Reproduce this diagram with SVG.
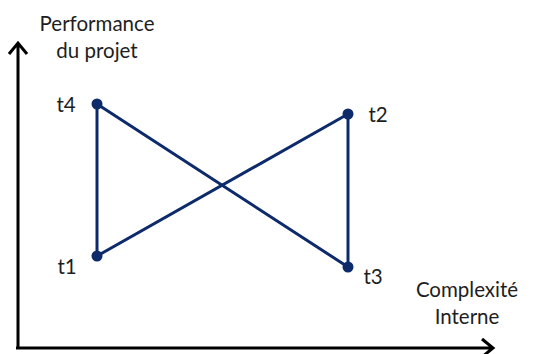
<svg xmlns="http://www.w3.org/2000/svg" width="534" height="354" viewBox="0 0 534 354">
<style>
text{font-family:Lato,"Liberation Sans",sans-serif;font-size:20.5px;fill:#1e1e1e}
.axis{stroke:#000;stroke-width:3;fill:none}
.edge{stroke:#0d2a6b;stroke-width:3;fill:none}
.dot{fill:#0d2a6b}
</style>
<rect width="534" height="354" fill="#fff"/>
<g id="axes">
<path class="axis" d="M18,348 V44 M9,54 L18,43 L27,54"/>
<path class="axis" d="M16,348 H492 M482,339 L493,348 L482,357"/>
<text x="97" y="31" text-anchor="middle">Performance</text>
<text x="97" y="58" text-anchor="middle">du projet</text>
<text x="467" y="297" text-anchor="middle">Complexité</text>
<text x="467" y="324" text-anchor="middle">Interne</text>
</g>
<g id="connectors">
<line class="edge" x1="97" y1="104" x2="97" y2="256"/>
<line class="edge" x1="97" y1="256" x2="348" y2="114"/>
<line class="edge" x1="348" y1="114" x2="348" y2="267"/>
<line class="edge" x1="348" y1="267" x2="97" y2="104"/>
</g>
<g id="t4"><circle class="dot" cx="97" cy="104" r="5.5"/><text x="66" y="112" text-anchor="middle">t4</text></g>
<g id="t1"><circle class="dot" cx="97" cy="256" r="5.5"/><text x="67" y="274" text-anchor="middle">t1</text></g>
<g id="t2"><circle class="dot" cx="348" cy="114" r="5.5"/><text x="378" y="122" text-anchor="middle">t2</text></g>
<g id="t3"><circle class="dot" cx="348" cy="267" r="5.5"/><text x="373" y="284" text-anchor="middle">t3</text></g>
</svg>
